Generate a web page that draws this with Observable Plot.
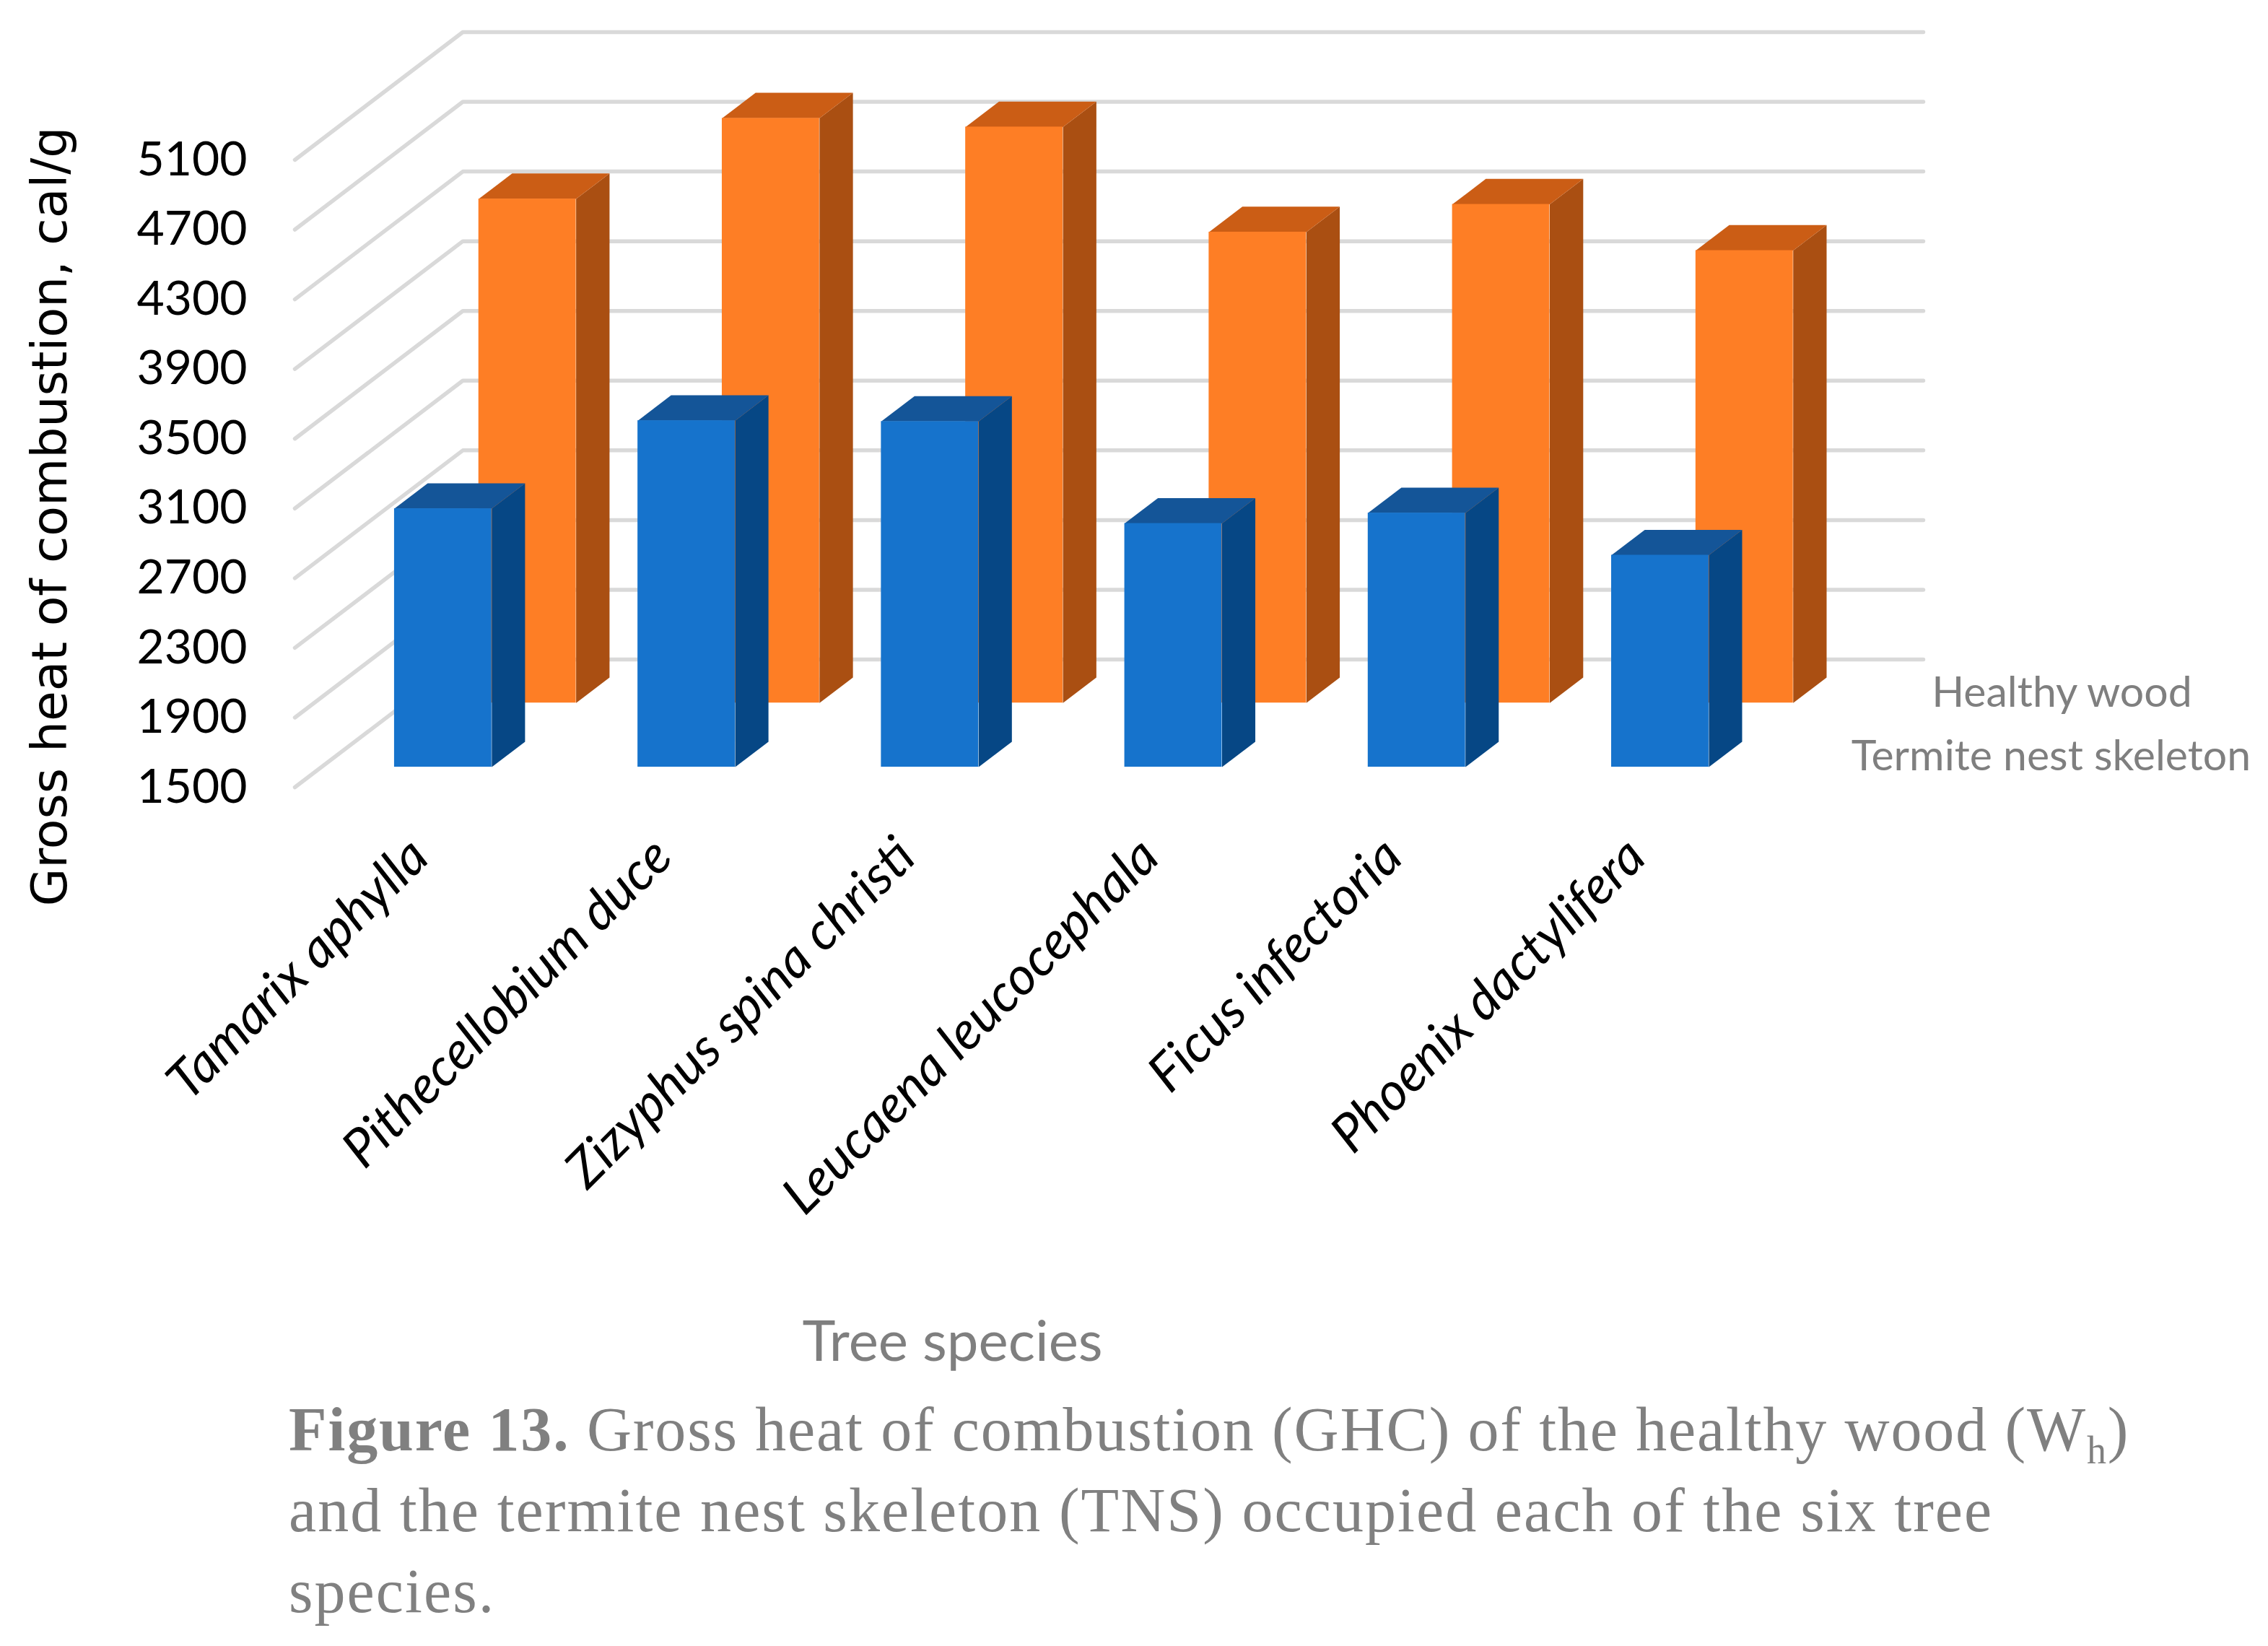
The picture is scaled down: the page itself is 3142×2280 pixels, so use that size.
<!DOCTYPE html>
<html><head><meta charset="utf-8">
<script src="https://cdn.jsdelivr.net/npm/d3@7"></script>
<script src="https://cdn.jsdelivr.net/npm/@observablehq/plot@0.6"></script>
<style>
html,body{margin:0;padding:0;background:#fff;overflow:hidden}
svg{display:block}
#cap{margin:0 0 0 400px;font-family:"Liberation Serif",serif;font-size:86px;line-height:112px;color:#808080;white-space:nowrap;letter-spacing:2.05px}
#cap .l1{letter-spacing:1.85px}
#cap sub{font-size:54px;line-height:0}
</style></head><body>
<div id="chart"></div>
<div id="cap"><div class="l1"><b>Figure 13.</b> Gross heat of combustion (GHC) of the healthy wood (W<sub>h</sub>)</div><div>and the termite nest skeleton (TNS) occupied each of the six tree</div><div>species.</div></div>
<script>
const categories = ["Tamarix aphylla","Pithecellobium duce","Zizyphus spina christi","Leucaena leucocephala","Ficus infectoria","Phoenix dactylifera"];
const healthyWood = [2983,3488,3483,2898,2958,2716];
const termiteNest = [4392,4855,4805,4202,4361,4096];
const yTicks = [1500,1900,2300,2700,3100,3500,3900,4300,4700,5100];
const legendLabels = ["Healthy wood","Termite nest skeleton"];
const yTitle = "Gross heat of combustion, cal/g";
const xTitle = "Tree species";

// oblique projection: depth t in [0,1] shifts along x (category units) and y (value units)
const DX = 0.69, DY = 733, BASE = 1500, BAR = 0.4;
const px = (u,t)=>u+t*DX, py = (v,t)=>v+t*DY;
function faces(values, t0, t1, cFront, cSide, cTop){
  const rows = values.map((v,i)=>({i,v,l:i+.5-BAR/2,r:i+.5+BAR/2}));
  const side=[], top=[];
  rows.forEach(d=>{
    side.push(...[[d.r,t0,BASE],[d.r,t1,BASE],[d.r,t1,d.v],[d.r,t0,d.v]].map(([u,t,v])=>({k:d.i,x:px(u,t),y:py(v,t)})));
    top.push(...[[d.l,t0],[d.l,t1],[d.r,t1],[d.r,t0]].map(([u,t])=>({k:d.i,x:px(u,t),y:py(d.v,t)})));
  });
  return [
    Plot.line(side,{x:"x",y:"y",z:"k",fill:cSide,stroke:"none"}),
    Plot.line(top,{x:"x",y:"y",z:"k",fill:cTop,stroke:"none"}),
    Plot.rect(rows,{x1:d=>px(d.l,t0),x2:d=>px(d.r,t0),y1:py(BASE,t0),y2:d=>py(d.v,t0),fill:cFront,inset:0})
  ];
}
const grid = yTicks.flatMap(v=>[{k:v,x:0,y:v},{k:v,x:DX,y:v+DY},{k:v,x:6+DX,y:v+DY}]);
const W=3142,H=1924,L=408,T=44;
const note=(s,x,y,o)=>Plot.text([s],{text:d=>d,frameAnchor:"top-left",dx:x-L,dy:y-T,textAnchor:"middle",lineAnchor:"middle",...o});

const chart = Plot.plot({
  width:W,height:H,marginLeft:L,marginRight:W-2664,marginTop:T,marginBottom:H-1090,
  style:{background:"#fff",fontFamily:"Lato"},
  x:{domain:[0,6+DX],axis:null},
  y:{domain:[BASE,5100+DY],axis:null},
  marks:[
    Plot.line(grid,{x:"x",y:"y",z:"k",stroke:"#d9d9d9",strokeWidth:5.5}),
    ...faces(termiteNest,0.66,0.859,"#FE7E25","#AA4F12","#CB5D15"),
    ...faces(healthyWood,0.158,0.356,"#1673CC","#064785","#145598"),
    Plot.axisY({ticks:yTicks,tickSize:0,tickPadding:66,label:null,fontSize:66,fill:"#000",tickFormat:d=>String(d)}),
    Plot.text(categories,{x:(d,i)=>i+.5,y:BASE,text:d=>d,rotate:-45,textAnchor:"end",lineAnchor:"middle",dx:4,dy:84,fontSize:73,fontStyle:"italic",fill:"#000"}),
    note(yTitle,70,715,{rotate:-90,fontSize:68,fill:"#000",fontFamily:"DejaVu Sans"}),
    note(legendLabels[0],2856,960,{fontSize:59,fill:"#7f7f7f"}),
    note(legendLabels[1],2841,1048,{fontSize:59,fill:"#7f7f7f"}),
    note(xTitle,1319,1860,{fontSize:78,fill:"#7f7f7f"})
  ]
});
document.getElementById("chart").append(chart);
</script>
</body></html>
